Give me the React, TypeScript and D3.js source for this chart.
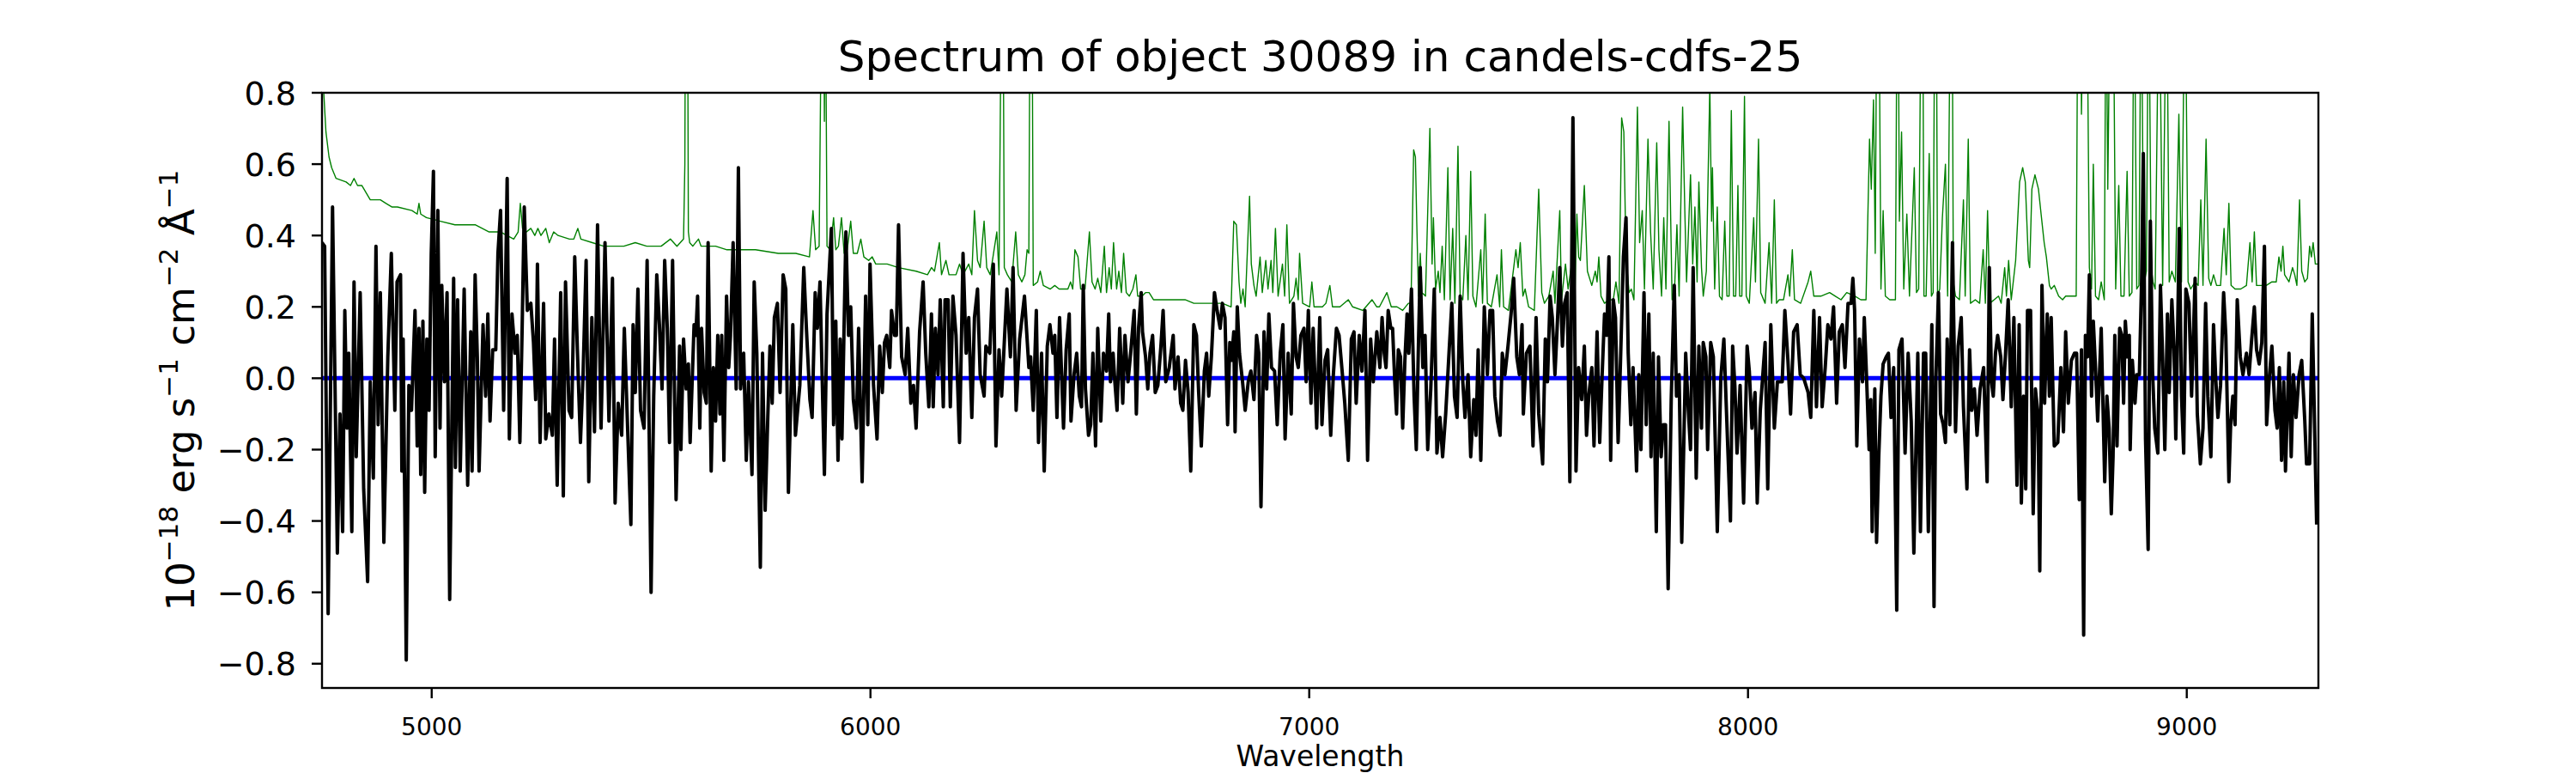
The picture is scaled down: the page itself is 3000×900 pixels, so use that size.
import { format, line as d3_line, scaleLinear } from "d3";
import type { FC } from "react";

// figure text
const title = "Spectrum of object 30089 in candels-cdfs-25";
const xLabel = "Wavelength";

// axis limits and ticks
const xDomain: [number, number] = [4750, 9300];
const yDomain: [number, number] = [-0.868, 0.8];
const xTicks = [5000, 6000, 7000, 8000, 9000];
const yTicks = [-0.8, -0.6, -0.4, -0.2, 0.0, 0.2, 0.4, 0.6, 0.8];

// smoothed object spectrum (black), [wavelength, flux]
const flux: [number, number][] = [
  [4750, 0.38], [4756, 0.37], [4764, -0.66], [4774, 0.48], [4785, -0.49], [4791, -0.1], [4797, -0.43], [4802, 0.19],
  [4807, -0.14], [4811, 0.07], [4818, -0.43], [4823, 0.27], [4828, -0.22], [4837, 0.24], [4845, -0.31], [4854, -0.57],
  [4860, -0.01], [4867, -0.28], [4873, 0.37], [4878, -0.13], [4883, 0.24], [4891, -0.46], [4900, 0.06], [4908, 0.35],
  [4916, -0.09], [4921, 0.27], [4929, 0.29], [4932, -0.26], [4935, 0.11], [4942, -0.79], [4948, -0.02], [4954, -0.09],
  [4962, 0.19], [4967, -0.19], [4971, 0.14], [4975, -0.27], [4980, 0.16], [4984, -0.32], [4989, 0.11], [4994, -0.09],
  [4999, 0.35], [5004, 0.58], [5008, -0.22], [5014, 0.47], [5019, -0.14], [5023, 0.26], [5029, -0.01], [5035, 0.24],
  [5041, -0.62], [5050, 0.28], [5054, -0.25], [5059, 0.22], [5065, -0.26], [5074, 0.25], [5082, -0.3], [5089, 0.13],
  [5092, -0.26], [5099, 0.29], [5104, 0.06], [5108, -0.26], [5117, 0.15], [5123, -0.05], [5128, 0.18], [5133, -0.12],
  [5139, 0.08], [5146, 0.08], [5151, 0.35], [5157, 0.47], [5164, -0.09], [5172, 0.56], [5177, -0.17], [5183, 0.18],
  [5190, 0.07], [5195, 0.12], [5201, -0.18], [5206, 0.13], [5211, 0.48], [5218, 0.19], [5226, 0.21], [5232, 0.1],
  [5237, -0.06], [5241, 0.32], [5247, -0.18], [5255, 0.21], [5260, -0.17], [5267, -0.1], [5275, -0.16], [5280, 0.11],
  [5286, -0.3], [5294, 0.24], [5300, -0.33], [5305, 0.27], [5313, -0.09], [5319, -0.11], [5326, 0.34], [5332, 0.08],
  [5339, -0.18], [5345, 0.01], [5352, 0.33], [5358, -0.29], [5365, 0.17], [5371, -0.15], [5378, 0.43], [5386, -0.14],
  [5395, 0.38], [5404, -0.12], [5412, 0.28], [5418, -0.35], [5425, -0.07], [5433, -0.16], [5439, 0.14], [5446, -0.12],
  [5454, -0.41], [5459, 0.15], [5464, -0.04], [5470, 0.25], [5476, -0.09], [5484, -0.14], [5491, 0.33], [5500, -0.6],
  [5506, -0.05], [5513, 0.29], [5519, 0.15], [5525, -0.03], [5531, 0.33], [5537, 0.14], [5542, -0.18], [5549, 0.33],
  [5557, -0.34], [5565, 0.09], [5568, -0.2], [5574, 0.11], [5580, -0.03], [5585, 0.04], [5589, -0.18], [5598, 0.15],
  [5602, 0.12], [5606, 0.23], [5611, -0.14], [5615, 0.14], [5621, -0.04], [5626, -0.07], [5630, 0.38], [5637, -0.26],
  [5642, 0.03], [5647, -0.12], [5652, 0.12], [5657, -0.1], [5661, 0.12], [5666, -0.23], [5672, 0.23], [5677, 0.03],
  [5681, 0.12], [5687, 0.38], [5694, -0.03], [5699, 0.59], [5704, -0.03], [5711, 0.07], [5717, -0.23], [5722, -0.01],
  [5730, -0.27], [5735, 0.27], [5741, 0.07], [5749, -0.53], [5754, 0.07], [5760, -0.37], [5766, -0.11], [5771, 0.09],
  [5776, -0.07], [5781, 0.17], [5788, 0.21], [5794, -0.04], [5801, 0.29], [5807, 0.25], [5813, -0.32], [5823, 0.15],
  [5829, -0.16], [5839, -0.02], [5848, 0.31], [5854, 0.14], [5862, -0.06], [5867, -0.11], [5874, 0.24], [5879, 0.14],
  [5885, 0.27], [5895, -0.27], [5901, 0.18], [5911, 0.42], [5916, -0.13], [5921, 0.16], [5926, -0.23], [5931, 0.11],
  [5935, -0.17], [5944, 0.41], [5950, 0.12], [5955, 0.2], [5961, -0.06], [5968, -0.14], [5973, 0.14], [5981, -0.29],
  [5989, 0.23], [5994, -0.13], [5999, 0.32], [6007, -0.02], [6015, -0.17], [6021, 0.09], [6027, -0.04], [6032, 0.1],
  [6037, 0.12], [6044, 0.03], [6048, 0.19], [6055, 0.12], [6059, 0.12], [6064, 0.43], [6071, 0.06], [6079, 0.01],
  [6085, 0.14], [6092, -0.07], [6098, -0.02], [6104, -0.14], [6112, 0.13], [6120, 0.27], [6126, 0.07], [6133, -0.08],
  [6139, 0.18], [6143, -0.08], [6148, 0.14], [6154, 0.01], [6159, 0.22], [6166, -0.08], [6170, 0.22], [6177, 0.22],
  [6182, -0.08], [6188, 0.23], [6195, 0.12], [6203, -0.18], [6211, 0.35], [6218, 0.07], [6224, 0.17], [6231, -0.11],
  [6237, 0.17], [6244, 0.25], [6250, 0.01], [6259, -0.05], [6263, 0.09], [6272, 0.07], [6280, 0.32], [6286, -0.19],
  [6293, 0.08], [6299, -0.05], [6311, 0.25], [6319, 0.06], [6325, 0.31], [6332, -0.09], [6340, 0.11], [6351, 0.23],
  [6361, 0.03], [6365, 0.06], [6371, -0.09], [6378, 0.19], [6383, -0.18], [6390, 0.07], [6396, -0.26], [6403, 0.09],
  [6409, 0.15], [6416, 0.07], [6420, 0.12], [6425, -0.11], [6431, 0.17], [6440, -0.14], [6446, 0.08], [6453, 0.18],
  [6457, -0.12], [6464, 0.01], [6470, 0.07], [6476, -0.05], [6481, -0.08], [6485, 0.26], [6490, -0.03], [6497, -0.16],
  [6502, -0.13], [6507, 0.07], [6513, -0.19], [6518, 0.14], [6525, -0.12], [6531, 0.07], [6538, 0.02], [6543, 0.18],
  [6547, -0.01], [6553, 0.07], [6557, -0.01], [6562, -0.09], [6568, 0.14], [6575, -0.07], [6580, 0.12], [6587, -0.01],
  [6593, 0.07], [6601, 0.19], [6606, -0.1], [6611, 0.14], [6617, 0.24], [6620, 0.13], [6627, 0.06], [6632, -0.03],
  [6637, 0.07], [6643, 0.12], [6649, -0.04], [6655, -0.02], [6662, 0.09], [6667, 0.19], [6673, -0.01], [6681, 0.03],
  [6690, 0.12], [6694, -0.03], [6701, 0.06], [6707, -0.07], [6712, -0.09], [6718, 0.05], [6724, -0.04], [6730, -0.26],
  [6737, 0.15], [6743, 0.12], [6748, -0.04], [6754, -0.19], [6761, 0.02], [6766, 0.07], [6771, -0.05], [6777, 0.06],
  [6784, 0.24], [6790, 0.19], [6797, 0.14], [6802, 0.21], [6808, 0.17], [6814, -0.13], [6819, 0.1], [6823, 0.05],
  [6828, 0.13], [6831, -0.15], [6836, 0.2], [6841, 0.07], [6848, -0.01], [6854, -0.09], [6861, -0.01], [6867, 0.02],
  [6874, -0.06], [6880, 0.12], [6885, 0.07], [6890, -0.36], [6897, 0.13], [6903, -0.03], [6908, 0.18], [6914, 0.03],
  [6921, 0.02], [6927, -0.13], [6934, 0.07], [6940, 0.15], [6945, -0.17], [6952, 0.07], [6959, -0.1], [6964, 0.21],
  [6970, 0.06], [6975, 0.03], [6981, 0.12], [6988, 0.14], [6993, -0.01], [6998, 0.19], [7004, -0.07], [7009, 0.14],
  [7017, -0.14], [7024, 0.17], [7029, -0.13], [7036, 0.05], [7042, 0.08], [7049, -0.16], [7055, 0.01], [7062, 0.14],
  [7068, 0.12], [7075, 0.02], [7081, -0.07], [7089, -0.23], [7096, 0.11], [7102, 0.13], [7107, -0.07], [7114, 0.12],
  [7120, 0.02], [7127, 0.19], [7133, -0.23], [7140, 0.11], [7146, -0.01], [7154, 0.13], [7161, 0.03], [7166, 0.17],
  [7171, 0.07], [7175, 0.03], [7180, 0.19], [7186, 0.14], [7190, 0.14], [7195, -0.01], [7199, -0.1], [7203, 0.08],
  [7208, 0.06], [7213, -0.14], [7218, 0.05], [7223, 0.18], [7227, 0.07], [7233, 0.25], [7239, -0.05], [7244, -0.2],
  [7249, 0.1], [7253, 0.31], [7259, 0.03], [7264, 0.12], [7270, -0.2], [7277, -0.03], [7285, 0.25], [7291, -0.21],
  [7298, -0.11], [7304, -0.22], [7311, -0.1], [7319, 0.08], [7325, 0.21], [7331, -0.05], [7337, -0.11], [7344, 0.23],
  [7350, -0.01], [7355, -0.11], [7362, 0.01], [7368, -0.22], [7375, -0.06], [7380, -0.16], [7385, 0.08], [7391, -0.23],
  [7399, 0.2], [7406, 0.01], [7412, 0.19], [7418, 0.19], [7423, -0.05], [7429, -0.12], [7435, -0.16], [7440, 0.07],
  [7446, 0.01], [7453, 0.09], [7460, 0.18], [7466, 0.28], [7473, 0.06], [7479, 0.01], [7485, 0.15], [7488, -0.1],
  [7495, 0.07], [7503, 0.09], [7510, -0.19], [7517, 0.17], [7523, -0.1], [7532, -0.24], [7538, 0.11], [7543, -0.01],
  [7549, 0.23], [7554, 0.17], [7560, 0.01], [7565, 0.14], [7571, 0.31], [7577, 0.09], [7582, 0.21], [7588, 0.24],
  [7594, -0.29], [7601, 0.73], [7608, -0.26], [7614, 0.03], [7621, -0.06], [7627, 0.09], [7632, -0.16], [7637, -0.05],
  [7644, 0.03], [7649, -0.19], [7656, 0.13], [7662, -0.18], [7667, -0.01], [7673, 0.18], [7678, 0.12], [7683, 0.34],
  [7687, -0.23], [7693, 0.22], [7698, 0.17], [7704, -0.18], [7709, 0.03], [7716, 0.34], [7722, 0.45], [7727, 0.07],
  [7733, -0.13], [7738, 0.03], [7746, -0.26], [7751, 0.01], [7756, -0.2], [7763, 0.24], [7768, -0.13], [7774, 0.18],
  [7779, -0.22], [7784, 0.07], [7791, -0.43], [7796, 0.06], [7802, -0.22], [7807, -0.13], [7812, -0.13], [7818, -0.59],
  [7825, -0.06], [7832, 0.26], [7837, -0.05], [7843, 0.01], [7849, -0.46], [7858, 0.07], [7864, -0.09], [7869, -0.2],
  [7875, 0.31], [7882, -0.28], [7888, 0.09], [7894, -0.14], [7898, 0.1], [7904, 0.06], [7908, -0.2], [7915, 0.1],
  [7921, 0.06], [7930, -0.43], [7938, 0.0], [7945, 0.11], [7952, -0.13], [7960, -0.4], [7965, 0.09], [7970, -0.02],
  [7975, -0.21], [7982, -0.02], [7990, -0.35], [7998, 0.09], [8003, 0.02], [8009, -0.14], [8016, -0.04], [8021, -0.35],
  [8028, -0.09], [8039, 0.1], [8045, -0.31], [8052, 0.15], [8060, -0.14], [8067, -0.01], [8078, -0.01], [8084, 0.19],
  [8091, 0.05], [8097, -0.1], [8104, 0.13], [8112, 0.15], [8119, 0.01], [8127, 0.0], [8137, -0.04], [8143, -0.11],
  [8150, 0.19], [8156, -0.08], [8163, 0.17], [8169, -0.08], [8176, 0.03], [8182, 0.15], [8189, 0.11], [8195, 0.2],
  [8202, -0.07], [8208, 0.13], [8215, 0.15], [8221, 0.03], [8228, 0.21], [8235, 0.21], [8239, 0.28], [8243, 0.19],
  [8248, -0.19], [8254, 0.11], [8261, -0.01], [8265, 0.17], [8270, 0.01], [8276, -0.2], [8280, -0.06], [8283, -0.43],
  [8289, -0.03], [8293, -0.46], [8298, -0.22], [8303, -0.05], [8308, 0.04], [8315, 0.06], [8320, 0.07], [8326, -0.11],
  [8332, 0.03], [8339, -0.65], [8344, 0.08], [8351, 0.11], [8358, -0.21], [8365, 0.07], [8372, -0.12], [8378, -0.49],
  [8387, 0.07], [8393, -0.43], [8400, 0.07], [8405, 0.07], [8411, -0.43], [8419, 0.15], [8424, -0.64], [8428, -0.01],
  [8434, 0.24], [8439, -0.1], [8445, -0.13], [8450, -0.18], [8454, 0.11], [8460, -0.13], [8466, 0.38], [8473, -0.15],
  [8479, 0.09], [8486, 0.17], [8491, -0.08], [8499, -0.31], [8505, 0.08], [8510, -0.09], [8516, -0.03], [8522, -0.16],
  [8529, -0.03], [8537, 0.03], [8545, -0.29], [8550, 0.31], [8555, -0.01], [8559, -0.05], [8564, 0.07], [8569, 0.12],
  [8576, 0.06], [8581, -0.06], [8587, 0.07], [8593, 0.22], [8600, -0.08], [8606, 0.17], [8613, -0.3], [8618, 0.15],
  [8623, -0.35], [8628, -0.05], [8633, -0.31], [8637, 0.19], [8644, 0.19], [8650, -0.38], [8655, -0.03], [8661, -0.1],
  [8665, -0.54], [8670, 0.26], [8676, -0.07], [8682, 0.18], [8687, -0.05], [8691, 0.17], [8698, -0.19], [8706, -0.18],
  [8713, 0.03], [8719, -0.15], [8724, 0.13], [8730, -0.07], [8737, 0.05], [8744, 0.07], [8749, 0.07], [8755, -0.34],
  [8760, 0.08], [8765, -0.72], [8769, 0.12], [8774, 0.06], [8778, 0.29], [8783, -0.05], [8787, 0.16], [8792, 0.03],
  [8797, -0.12], [8805, 0.14], [8813, -0.29], [8818, -0.05], [8823, -0.14], [8828, -0.38], [8832, -0.22], [8836, 0.12],
  [8841, -0.19], [8847, 0.14], [8852, 0.12], [8856, -0.07], [8860, 0.16], [8865, 0.06], [8869, 0.12], [8871, -0.2],
  [8876, 0.05], [8882, -0.07], [8886, 0.01], [8892, 0.01], [8897, 0.27], [8901, 0.63], [8906, -0.17], [8912, -0.48],
  [8917, 0.44], [8922, 0.02], [8927, -0.14], [8934, -0.21], [8940, 0.26], [8945, 0.06], [8950, -0.2], [8956, 0.18],
  [8960, -0.04], [8966, 0.22], [8971, 0.08], [8975, -0.17], [8983, 0.42], [8988, -0.05], [8993, -0.21], [8998, 0.25],
  [9005, 0.21], [9011, -0.05], [9019, 0.28], [9024, -0.1], [9031, -0.24], [9037, -0.14], [9043, 0.21], [9048, -0.05],
  [9055, -0.22], [9061, 0.15], [9066, 0.0], [9071, -0.11], [9077, -0.02], [9084, 0.24], [9089, 0.12], [9096, -0.29],
  [9100, -0.13], [9105, -0.05], [9110, -0.13], [9115, 0.22], [9122, 0.06], [9128, 0.01], [9136, 0.07], [9142, 0.01],
  [9148, 0.11], [9154, 0.2], [9159, 0.08], [9165, 0.04], [9171, 0.1], [9177, 0.37], [9182, -0.13], [9188, 0.0],
  [9194, 0.09], [9201, -0.09], [9206, -0.14], [9211, 0.03], [9216, -0.23], [9221, -0.01], [9225, -0.26], [9233, 0.07],
  [9238, -0.22], [9243, 0.01], [9249, -0.11], [9256, 0.01], [9262, 0.05], [9269, -0.12], [9273, -0.24], [9280, -0.24],
  [9286, 0.18], [9296, -0.41],
];

// noise / sky spectrum (green), [wavelength, flux]; 1.2 = line clipped at the top of the axes
const noise: [number, number][] = [
  [4750, 1.0], [4754, 0.8], [4759, 0.69], [4766, 0.62], [4772, 0.59], [4782, 0.56], [4805, 0.55], [4815, 0.54],
  [4823, 0.56], [4831, 0.54], [4841, 0.54], [4860, 0.5], [4870, 0.5], [4883, 0.5], [4896, 0.49], [4909, 0.48],
  [4922, 0.48], [4955, 0.47], [4967, 0.46], [4971, 0.49], [4975, 0.46], [4988, 0.45], [5020, 0.44], [5053, 0.43],
  [5099, 0.43], [5131, 0.41], [5157, 0.41], [5187, 0.39], [5197, 0.41], [5202, 0.49], [5207, 0.42], [5216, 0.41],
  [5226, 0.42], [5235, 0.4], [5242, 0.42], [5249, 0.4], [5260, 0.42], [5268, 0.38], [5278, 0.41], [5288, 0.4],
  [5314, 0.39], [5324, 0.39], [5333, 0.42], [5340, 0.39], [5366, 0.38], [5392, 0.37], [5438, 0.37], [5464, 0.38],
  [5490, 0.37], [5523, 0.37], [5544, 0.39], [5559, 0.37], [5574, 0.39], [5577, 0.6], [5578.5, 1.2], [5583, 1.2],
  [5585, 0.41], [5588, 0.38], [5595, 0.37], [5608, 0.39], [5614, 0.37], [5647, 0.37], [5673, 0.36], [5712, 0.36],
  [5738, 0.36], [5790, 0.35], [5830, 0.35], [5861, 0.34], [5869, 0.47], [5875, 0.36], [5883, 0.37], [5887, 0.9],
  [5888, 1.2], [5893, 1.2], [5895, 0.72], [5897, 1.2], [5899, 0.8], [5901, 0.37], [5908, 0.36], [5916, 0.45],
  [5921, 0.36], [5927, 0.37], [5934, 0.45], [5940, 0.35], [5947, 0.36], [5955, 0.44], [5961, 0.35], [5970, 0.35],
  [5978, 0.39], [5985, 0.34], [5996, 0.33], [6004, 0.34], [6012, 0.32], [6038, 0.32], [6064, 0.31], [6104, 0.3],
  [6130, 0.29], [6139, 0.31], [6146, 0.3], [6157, 0.38], [6162, 0.29], [6172, 0.33], [6179, 0.29], [6195, 0.29],
  [6203, 0.32], [6211, 0.29], [6224, 0.32], [6231, 0.29], [6237, 0.47], [6244, 0.33], [6250, 0.31], [6259, 0.44],
  [6265, 0.31], [6273, 0.29], [6288, 0.41], [6293, 0.29], [6297, 0.9], [6298, 1.2], [6302, 1.2], [6305, 0.31],
  [6312, 0.29], [6322, 0.27], [6331, 0.41], [6337, 0.29], [6345, 0.27], [6352, 0.29], [6357, 0.36], [6361, 0.35],
  [6364, 1.2], [6368, 1.2], [6371, 0.26], [6381, 0.27], [6387, 0.3], [6394, 0.26], [6410, 0.25], [6420, 0.26],
  [6430, 0.25], [6450, 0.25], [6456, 0.27], [6461, 0.25], [6466, 0.36], [6473, 0.34], [6479, 0.25], [6489, 0.25],
  [6499, 0.41], [6505, 0.27], [6512, 0.25], [6518, 0.28], [6525, 0.24], [6533, 0.37], [6538, 0.24], [6544, 0.31],
  [6549, 0.25], [6554, 0.38], [6561, 0.25], [6566, 0.3], [6572, 0.24], [6577, 0.35], [6583, 0.24], [6590, 0.23],
  [6598, 0.25], [6605, 0.29], [6609, 0.23], [6619, 0.23], [6627, 0.24], [6635, 0.24], [6645, 0.22], [6668, 0.22],
  [6697, 0.22], [6717, 0.22], [6737, 0.21], [6763, 0.21], [6802, 0.21], [6822, 0.2], [6828, 0.44], [6834, 0.43],
  [6840, 0.27], [6844, 0.21], [6849, 0.25], [6854, 0.2], [6864, 0.51], [6868, 0.32], [6874, 0.26], [6879, 0.23],
  [6888, 0.34], [6893, 0.24], [6901, 0.33], [6906, 0.25], [6913, 0.33], [6917, 0.24], [6923, 0.42], [6929, 0.23],
  [6939, 0.32], [6944, 0.23], [6949, 0.43], [6955, 0.21], [6965, 0.23], [6970, 0.28], [6975, 0.22], [6978, 0.35],
  [6985, 0.21], [7001, 0.2], [7006, 0.27], [7011, 0.2], [7021, 0.2], [7030, 0.2], [7038, 0.21], [7047, 0.26],
  [7053, 0.2], [7070, 0.2], [7089, 0.22], [7099, 0.2], [7122, 0.19], [7143, 0.22], [7154, 0.2], [7160, 0.2],
  [7177, 0.24], [7187, 0.2], [7200, 0.2], [7213, 0.19], [7226, 0.21], [7232, 0.21], [7238, 0.64], [7242, 0.62],
  [7245, 0.44], [7249, 0.23], [7253, 0.35], [7257, 0.24], [7265, 0.23], [7275, 0.7], [7280, 0.32], [7283, 0.45],
  [7288, 0.25], [7294, 0.3], [7298, 0.24], [7303, 0.37], [7308, 0.22], [7316, 0.59], [7321, 0.22], [7327, 0.42],
  [7332, 0.21], [7339, 0.65], [7344, 0.23], [7350, 0.22], [7357, 0.4], [7362, 0.22], [7368, 0.58], [7373, 0.23],
  [7380, 0.2], [7391, 0.36], [7395, 0.21], [7401, 0.46], [7406, 0.21], [7415, 0.2], [7428, 0.29], [7434, 0.2],
  [7438, 0.36], [7443, 0.2], [7454, 0.19], [7471, 0.36], [7476, 0.31], [7481, 0.38], [7487, 0.23], [7492, 0.25],
  [7500, 0.2], [7513, 0.19], [7523, 0.53], [7530, 0.24], [7536, 0.21], [7546, 0.23], [7556, 0.3], [7560, 0.21],
  [7571, 0.47], [7575, 0.22], [7584, 0.32], [7590, 0.25], [7598, 0.32], [7605, 0.21], [7610, 0.46], [7614, 0.34],
  [7618, 0.33], [7627, 0.54], [7634, 0.3], [7644, 0.26], [7652, 0.3], [7656, 0.27], [7660, 0.34], [7665, 0.23],
  [7673, 0.21], [7683, 0.22], [7693, 0.22], [7699, 0.27], [7706, 0.21], [7712, 0.73], [7717, 0.69], [7722, 0.34],
  [7729, 0.24], [7734, 0.25], [7740, 0.22], [7748, 0.76], [7753, 0.38], [7759, 0.47], [7764, 0.25], [7772, 0.67],
  [7778, 0.41], [7784, 0.25], [7792, 0.66], [7797, 0.36], [7803, 0.23], [7808, 0.45], [7813, 0.25], [7820, 0.72],
  [7827, 0.22], [7833, 0.26], [7838, 0.43], [7843, 0.23], [7851, 0.76], [7856, 0.47], [7860, 0.27], [7869, 0.57],
  [7874, 0.32], [7879, 0.48], [7884, 0.27], [7888, 0.55], [7894, 0.31], [7898, 0.23], [7905, 0.3], [7913, 0.82],
  [7917, 0.44], [7919, 0.59], [7924, 0.25], [7930, 0.48], [7935, 0.23], [7941, 0.22], [7947, 0.44], [7952, 0.23],
  [7957, 0.23], [7962, 0.75], [7967, 0.23], [7972, 0.23], [7977, 0.54], [7981, 0.23], [7986, 0.23], [7992, 0.79],
  [7996, 0.23], [8003, 0.21], [8013, 0.45], [8017, 0.27], [8024, 0.67], [8029, 0.24], [8039, 0.21], [8048, 0.38],
  [8054, 0.21], [8060, 0.5], [8065, 0.21], [8071, 0.22], [8081, 0.22], [8091, 0.29], [8095, 0.23], [8101, 0.36],
  [8106, 0.22], [8120, 0.21], [8137, 0.27], [8143, 0.3], [8150, 0.23], [8166, 0.23], [8186, 0.24], [8199, 0.23],
  [8212, 0.22], [8225, 0.24], [8244, 0.23], [8257, 0.22], [8269, 0.22], [8277, 0.67], [8281, 0.53], [8286, 0.78],
  [8290, 0.35], [8294, 1.2], [8298, 1.2], [8303, 0.25], [8308, 0.47], [8313, 0.23], [8323, 0.22], [8329, 0.22],
  [8336, 0.22], [8340, 1.2], [8342, 1.2], [8345, 0.44], [8350, 0.69], [8355, 0.25], [8362, 0.46], [8368, 0.23],
  [8379, 0.59], [8384, 0.24], [8389, 0.25], [8395, 1.2], [8398, 1.2], [8401, 0.23], [8406, 0.23], [8413, 0.63],
  [8418, 0.23], [8422, 0.24], [8426, 1.2], [8429, 1.2], [8432, 0.23], [8437, 0.25], [8443, 0.45], [8450, 0.6],
  [8455, 0.23], [8462, 1.2], [8465, 1.2], [8468, 0.27], [8473, 0.23], [8482, 0.22], [8491, 0.5], [8495, 0.23],
  [8502, 0.67], [8507, 0.21], [8518, 0.22], [8528, 0.21], [8536, 0.36], [8541, 0.21], [8546, 0.47], [8551, 0.21],
  [8561, 0.22], [8571, 0.23], [8577, 0.21], [8585, 0.31], [8589, 0.23], [8594, 0.33], [8600, 0.22], [8610, 0.33],
  [8619, 0.55], [8626, 0.59], [8632, 0.55], [8639, 0.33], [8642, 0.31], [8647, 0.53], [8654, 0.57], [8662, 0.53],
  [8668, 0.46], [8675, 0.38], [8680, 0.34], [8687, 0.26], [8691, 0.25], [8698, 0.26], [8708, 0.23], [8717, 0.22],
  [8724, 0.23], [8734, 0.23], [8748, 0.23], [8752, 1.2], [8758, 1.2], [8760, 0.74], [8765, 1.2], [8772, 1.2],
  [8778, 0.31], [8783, 0.25], [8787, 0.6], [8792, 0.23], [8799, 0.22], [8805, 0.27], [8812, 0.22], [8816, 1.2],
  [8820, 0.53], [8826, 1.2], [8832, 1.2], [8838, 0.25], [8845, 0.54], [8850, 0.23], [8857, 0.23], [8864, 0.58],
  [8869, 0.23], [8875, 0.24], [8880, 1.2], [8886, 0.25], [8891, 0.26], [8896, 1.2], [8902, 0.26], [8908, 0.3],
  [8913, 1.2], [8919, 0.31], [8923, 0.27], [8928, 0.25], [8937, 1.2], [8945, 0.26], [8954, 1.2], [8960, 0.27],
  [8966, 0.3], [8974, 0.27], [8982, 0.74], [8988, 0.27], [8996, 1.2], [9003, 0.27], [9009, 0.25], [9019, 0.27],
  [9026, 0.26], [9032, 0.5], [9037, 0.26], [9044, 0.67], [9050, 0.28], [9055, 0.26], [9061, 0.29], [9068, 0.26],
  [9077, 0.26], [9085, 0.42], [9090, 0.29], [9096, 0.49], [9101, 0.26], [9110, 0.25], [9123, 0.25], [9136, 0.26],
  [9144, 0.38], [9149, 0.27], [9154, 0.41], [9159, 0.26], [9168, 0.26], [9181, 0.26], [9194, 0.27], [9204, 0.27],
  [9210, 0.34], [9215, 0.3], [9219, 0.37], [9223, 0.29], [9233, 0.27], [9241, 0.31], [9246, 0.29], [9251, 0.26],
  [9257, 0.5], [9262, 0.3], [9269, 0.27], [9275, 0.28], [9280, 0.37], [9284, 0.34], [9288, 0.38], [9293, 0.32],
  [9300, 0.32],
];

const WIDTH = 3000;
const HEIGHT = 900;
const margin = { left: 375, right: 300, top: 108, bottom: 99 };
const FONT = "'DejaVu Sans', sans-serif";

const Spectrum: FC = () => {
  const x0 = margin.left;
  const x1 = WIDTH - margin.right;
  const y0 = margin.top;
  const y1 = HEIGHT - margin.bottom;

  const xScale = scaleLinear().domain(xDomain).range([x0, x1]);
  const yScale = scaleLinear().domain(yDomain).range([y1, y0]);

  const path = d3_line<[number, number]>()
    .x((d) => xScale(d[0]))
    .y((d) => yScale(d[1]));

  const yFmt = format(".1f");
  const tickLen = 12;

  return (
    <svg
      width={WIDTH}
      height={HEIGHT}
      style={{ position: "absolute", left: 0, top: 0, background: "#fff" }}
      fontFamily={FONT}
    >
      <defs>
        <clipPath id="plot-area">
          <rect x={x0} y={y0} width={x1 - x0} height={y1 - y0} />
        </clipPath>
      </defs>

      {/* traces */}
      <g clipPath="url(#plot-area)" fill="none" strokeLinejoin="round">
        <path d={path(noise) ?? ""} stroke="#008000" strokeWidth={1.4} />
        <line
          x1={xScale(xDomain[0])}
          x2={xScale(xDomain[1])}
          y1={yScale(0)}
          y2={yScale(0)}
          stroke="#0000ff"
          strokeWidth={5}
        />
        <path d={path(flux) ?? ""} stroke="#000" strokeWidth={4} />
      </g>

      {/* frame */}
      <rect
        x={x0}
        y={y0}
        width={x1 - x0}
        height={y1 - y0}
        fill="none"
        stroke="#000"
        strokeWidth={2.4}
      />

      {/* x axis */}
      {xTicks.map((t) => (
        <g key={t} transform={`translate(${xScale(t)},${y1})`}>
          <line y2={tickLen} stroke="#000" strokeWidth={2.4} />
          <text y={55} textAnchor="middle" fontSize={28}>
            {t}
          </text>
        </g>
      ))}
      <text x={(x0 + x1) / 2} y={892} textAnchor="middle" fontSize={33}>
        {xLabel}
      </text>

      {/* y axis */}
      {yTicks.map((t) => (
        <g key={t} transform={`translate(${x0},${yScale(t)})`}>
          <line x2={-tickLen} stroke="#000" strokeWidth={2.4} />
          <text x={-30} dy="0.36em" textAnchor="end" fontSize={38}>
            {yFmt(t)}
          </text>
        </g>
      ))}
      <text
        transform={`translate(226,${(y0 + y1) / 2}) rotate(-90)`}
        textAnchor="middle"
        fontSize={45}
      >
        <tspan>10</tspan>
        <tspan fontSize={31} dy={-19}>
          −18
        </tspan>
        <tspan dy={19}> erg s</tspan>
        <tspan fontSize={31} dy={-19}>
          −1
        </tspan>
        <tspan dy={19}> cm</tspan>
        <tspan fontSize={31} dy={-19}>
          −2
        </tspan>
        <tspan dy={19}> Å</tspan>
        <tspan fontSize={31} dy={-19}>
          −1
        </tspan>
      </text>

      {/* title */}
      <text x={(x0 + x1) / 2} y={83} textAnchor="middle" fontSize={50}>
        {title}
      </text>
    </svg>
  );
};

export default function App() {
  return <Spectrum />;
}
